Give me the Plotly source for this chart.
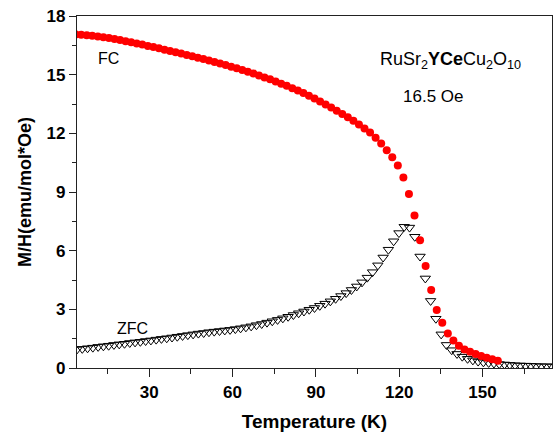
import plotly.graph_objects as go

# FC data (red filled circles)
fc_T = [3.5, 5.5, 7.5, 9.5, 11.5, 13.5, 15.5, 17.5, 19.5, 21.5, 23.5, 25.5, 27.5, 29.5,
        31.5, 33.5, 35.5, 37.5, 39.5, 41.5, 43.5, 45.5, 47.5, 49.5, 51.5, 53.5, 55.5,
        57.5, 59.5, 61.5, 63.5, 65.5, 67.5, 69.5, 71.5, 73.5, 75.5, 77.5, 79.5, 81.5,
        83.5, 85.5, 87.5, 89.5, 91.5, 93.5, 95.5, 97.5, 99.5, 101.5, 103.5, 105.5,
        107.5, 109.5, 111.5, 113.5, 115.5, 117.5, 119.5, 121.5, 123.5, 125.5, 127.5,
        129.5, 131.5, 133.5, 135.5, 137.5, 139.5, 141.5, 143.5, 145.5, 147.5, 149.5,
        151.5, 153.5, 155.5]
fc_M = [17.06, 17.04, 17.02, 16.99, 16.95, 16.91, 16.87, 16.82, 16.77, 16.71, 16.66,
        16.60, 16.54, 16.47, 16.41, 16.35, 16.28, 16.21, 16.15, 16.08, 16.01, 15.94,
        15.87, 15.80, 15.73, 15.65, 15.57, 15.49, 15.41, 15.33, 15.24, 15.15, 15.06,
        14.96, 14.86, 14.76, 14.65, 14.54, 14.43, 14.31, 14.19, 14.06, 13.92, 13.78,
        13.63, 13.48, 13.32, 13.16, 12.99, 12.82, 12.64, 12.45, 12.25, 12.04, 11.78,
        11.48, 11.14, 10.78, 10.35, 9.74, 8.90, 7.80, 6.53, 5.21, 3.99, 2.97, 2.32,
        1.77, 1.40, 1.14, 0.95, 0.83, 0.72, 0.62, 0.53, 0.45, 0.37]

# ZFC data (open down-triangles)
zfc_T = [4.0, 5.9, 7.8, 9.7, 11.6, 13.5, 15.4, 17.3, 19.2, 21.1, 23.0, 24.9, 26.8, 28.7,
         30.6, 32.5, 34.4, 36.3, 38.2, 40.1, 42.0, 43.9, 45.8, 47.7, 49.6, 51.5, 53.4,
         55.3, 57.2, 59.1, 61.0, 62.9, 64.8, 66.7, 68.6, 70.5, 72.4, 74.3, 76.2, 78.1,
         80.0, 81.9, 83.8, 85.7, 87.6, 89.5, 91.4, 93.3, 95.2, 97.1, 99.0, 100.9, 102.8,
         104.7, 106.6, 108.5, 110.4, 112.3, 114.2, 116.1, 118.0, 119.9, 121.8, 123.7,
         125.6, 127.5, 129.4, 131.3, 133.2, 135.1, 137.0, 138.9, 140.8, 142.7, 144.6,
         146.5, 148.4, 150.3, 152.2, 154.1, 156.0, 157.9, 159.8, 161.7, 163.6, 165.5,
         167.4, 169.3, 171.2, 173.1, 175.0]
zfc_M = [0.95, 0.98, 1.01, 1.04, 1.08, 1.11, 1.14, 1.18, 1.21, 1.24, 1.28, 1.31, 1.34,
         1.38, 1.41, 1.45, 1.49, 1.52, 1.56, 1.60, 1.64, 1.68, 1.72, 1.76, 1.79, 1.83,
         1.86, 1.89, 1.92, 1.95, 1.99, 2.03, 2.08, 2.13, 2.19, 2.25, 2.32, 2.39, 2.46,
         2.54, 2.62, 2.71, 2.80, 2.89, 2.98, 3.07, 3.18, 3.29, 3.41, 3.54, 3.68, 3.83,
         3.99, 4.17, 4.38, 4.62, 4.90, 5.25, 5.65, 6.05, 6.48, 6.90, 7.22, 7.18, 6.71,
         5.70, 4.58, 3.43, 2.52, 1.72, 1.18, 0.91, 0.72, 0.58, 0.47, 0.39, 0.33, 0.29,
         0.26, 0.23, 0.20, 0.18, 0.16, 0.14, 0.13, 0.12, 0.11, 0.10, 0.09, 0.09, 0.08]

x_ticks = [30, 60, 90, 120, 150]
y_ticks = [0, 3, 6, 9, 12, 15, 18]

FONT = "Arial, Liberation Sans, sans-serif"

fig = go.Figure()
fig.add_trace(go.Scatter(
    x=zfc_T, y=zfc_M, mode="markers",
    marker=dict(symbol="triangle-down-open", size=9, color="black", line=dict(width=1)),
    showlegend=False))
fig.add_trace(go.Scatter(
    x=fc_T, y=fc_M, mode="markers",
    marker=dict(symbol="circle", size=8, color="#ff0000", line=dict(width=0)),
    showlegend=False))

fig.add_annotation(x=15.5, y=15.85, text="FC", showarrow=False,
                   font=dict(family=FONT, size=16, color="black"))
fig.add_annotation(x=24, y=2.02, text="ZFC", showarrow=False,
                   font=dict(family=FONT, size=16, color="black"))
fig.add_annotation(x=138.5, y=15.7,
                   text="RuSr<sub>2</sub><b>YCe</b>Cu<sub>2</sub>O<sub>10</sub>",
                   showarrow=False, font=dict(family=FONT, size=18, color="black"))
fig.add_annotation(x=132.4, y=13.88, text="16.5 Oe", showarrow=False,
                   font=dict(family=FONT, size=17, color="black"))

fig.update_layout(
    width=553, height=437,
    margin=dict(l=77, r=1, t=16, b=69),
    paper_bgcolor="white", plot_bgcolor="white",
    font=dict(family=FONT, color="black"),
    xaxis=dict(
        range=[4, 175], tickvals=x_ticks, ticktext=[str(v) for v in x_ticks],
        ticks="outside", ticklen=8, tickwidth=1.3, tickcolor="#222",
        showline=True, linecolor="#222", linewidth=1.3, mirror=True,
        showgrid=False, zeroline=False,
        tickfont=dict(family=FONT, size=17, color="black", weight="bold"),
        title=dict(text="<b>Temperature (K)</b>", font=dict(family=FONT, size=19),
                   standoff=14),
        minor=dict(tickvals=[15, 45, 75, 105, 135, 165], ticks="outside", ticklen=5,
                   tickwidth=1.2, tickcolor="#222", showgrid=False),
    ),
    yaxis=dict(
        range=[0, 18], tickvals=y_ticks, ticktext=[str(v) for v in y_ticks],
        ticks="outside", ticklen=7, tickwidth=1.3, tickcolor="#222",
        showline=True, linecolor="#222", linewidth=1.3, mirror=True,
        showgrid=False, zeroline=False,
        tickfont=dict(family=FONT, size=17, color="black", weight="bold"),
        title=dict(text="<b>M/H(emu/mol*Oe)</b>", font=dict(family=FONT, size=18),
                   standoff=10),
        minor=dict(tickvals=[1.5, 4.5, 7.5, 10.5, 13.5, 16.5], ticks="outside",
                   ticklen=4, tickwidth=1.2, tickcolor="#222", showgrid=False),
    ),
)

fig.write_html("out.html")
